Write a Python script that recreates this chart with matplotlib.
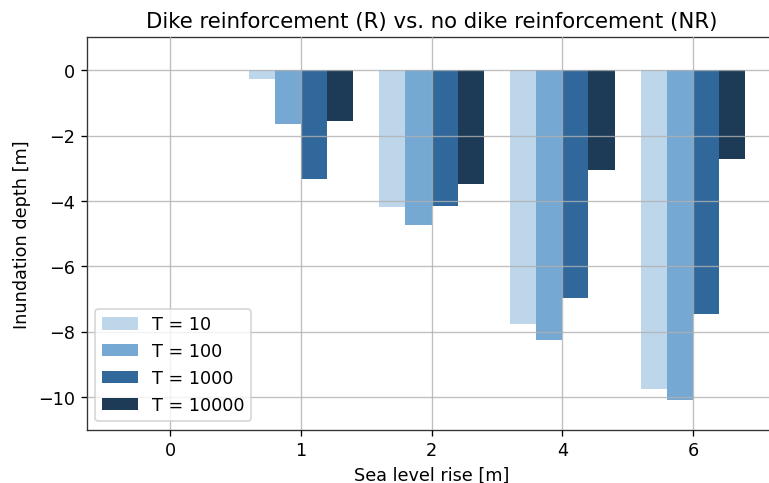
import numpy as np
import matplotlib
matplotlib.use("Agg")
import matplotlib.pyplot as plt

plt.rcParams["font.size"] = 10.6

slr = ["0", "1", "2", "4", "6"]
labels = ["T = 10", "T = 100", "T = 1000", "T = 10000"]
t10 = [0.0, -0.28, -4.19, -7.77, -9.76]
t100 = [0.0, -1.65, -4.74, -8.26, -10.09]
t1000 = [0.0, -3.33, -4.16, -6.97, -7.46]
t10000 = [0.0, -1.56, -3.49, -3.06, -2.72]
colors = ["#bdd6ea", "#75a8d2", "#31689b", "#1d3b57"]

series = [t10, t100, t1000, t10000]

fig = plt.figure(figsize=(6.41, 4.03), dpi=120)
# axes run a bit past the right edge, like the cropped original
ax = fig.add_axes([0.1125, 0.1095, 0.8972, 0.812])
x = np.arange(len(slr))
w = 0.2
for i, vals in enumerate(series):
    ax.bar(x + (i - 1.5) * w, vals, width=w, color=colors[i], label=labels[i], zorder=1)

ax.set_xticks(x)
ax.set_xticklabels(slr)
ax.set_ylim(-11, 1)
ax.set_yticks([0, -2, -4, -6, -8, -10])
ax.grid(True, color="#b0b0b0", linewidth=0.8, alpha=0.8, zorder=2)
ax.set_axisbelow(False)
for s in ax.spines.values():
    s.set_color("#333333")
ax.spines["right"].set_visible(False)
ax.set_xlabel("Sea level rise [m]")
ax.set_ylabel("Inundation depth [m]")
ax.set_title("Dike reinforcement (R) vs. no dike reinforcement (NR)")
ax.legend(loc="lower left")

fig.savefig("out.png", dpi=120)
